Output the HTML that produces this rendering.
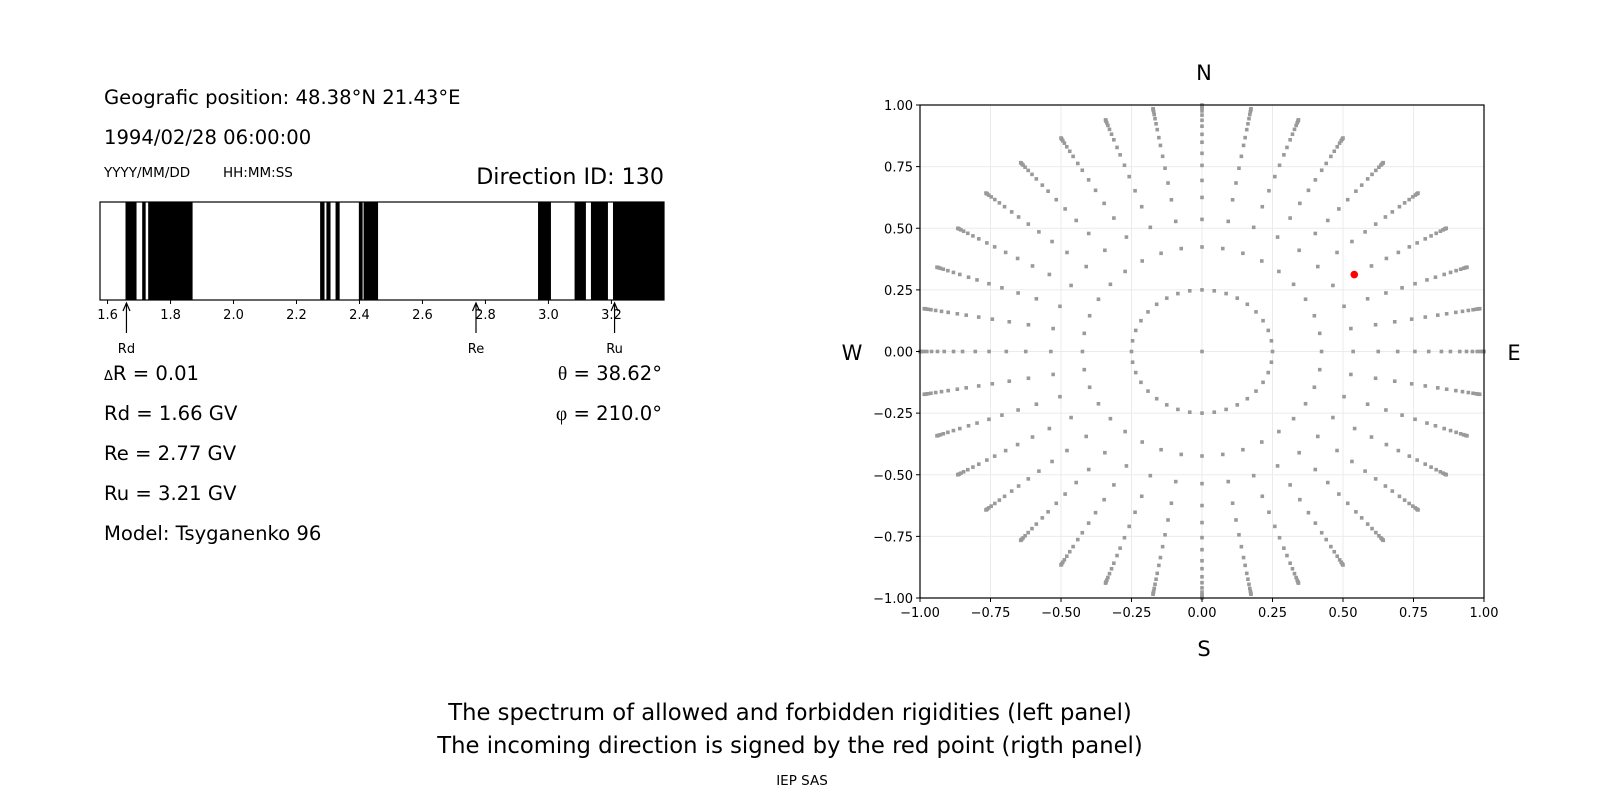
<!DOCTYPE html>
<html><head><meta charset="utf-8"><style>
html,body{margin:0;padding:0;background:#fff;}
svg{display:block;font-family:"DejaVu Sans","Liberation Sans",sans-serif;}
</style></head><body>
<svg id="chart" width="1600" height="800" viewBox="0 0 1600 800" xmlns="http://www.w3.org/2000/svg">
<g id="left">
<text x="104" y="104" font-size="19.6">Geografic position: 48.38°N 21.43°E</text>
<text x="104" y="144" font-size="19.6">1994/02/28 06:00:00</text>
<text x="104" y="177" font-size="13.5">YYYY/MM/DD</text>
<text x="223" y="177" font-size="13.5">HH:MM:SS</text>
<text x="664" y="184" font-size="22.2" text-anchor="end">Direction ID: 130</text>
<g id="spec"></g>
<text x="104" y="380" font-size="19.6"><tspan font-size="13">Δ</tspan>R = 0.01</text>
<text x="104" y="420" font-size="19.6">Rd = 1.66 GV</text>
<text x="104" y="460" font-size="19.6">Re = 2.77 GV</text>
<text x="104" y="500" font-size="19.6">Ru = 3.21 GV</text>
<text x="104" y="540" font-size="19.6">Model: Tsyganenko 96</text>
<text x="662" y="380" font-size="19.6" text-anchor="end"><tspan font-family="Liberation Serif,serif">θ</tspan> = 38.62°</text>
<text x="662" y="420" font-size="19.6" text-anchor="end"><tspan font-family="Liberation Serif,serif">φ</tspan> = 210.0°</text>
</g>
<g id="right"></g>
<text x="1204" y="80" font-size="21" text-anchor="middle">N</text>
<text x="1204" y="656" font-size="21" text-anchor="middle">S</text>
<text x="852" y="360" font-size="21" text-anchor="middle">W</text>
<text x="1514" y="360" font-size="21" text-anchor="middle">E</text>
<text x="790" y="720" font-size="22.7" text-anchor="middle">The spectrum of allowed and forbidden rigidities (left panel)</text>
<text x="790" y="753" font-size="22.7" text-anchor="middle">The incoming direction is signed by the red point (rigth panel)</text>
<text x="802" y="785" font-size="13.5" text-anchor="middle">IEP SAS</text>
</svg>
<script>
const NS="http://www.w3.org/2000/svg";
// Spectrum data
const forbiddenStart=[1.657,1.710,1.729,2.275,2.295,2.324,2.398,2.413,2.967,3.083,3.135,3.205];
const forbiddenEnd  =[1.692,1.721,1.870,2.289,2.308,2.337,2.410,2.459,3.008,3.119,3.189,3.367];
const specTicks=[1.6,1.8,2.0,2.2,2.4,2.6,2.8,3.0,3.2];
const markerNames=["Rd","Re","Ru"];
const markerValues=[1.66,2.77,3.21];
// Direction grid data
const azimuthsDeg=[0,10,20,30,40,50,60,70,80,90,100,110,120,130,140,150,160,170,180,190,200,210,220,230,240,250,260,270,280,290,300,310,320,330,340,350];
const radii=[0.25,0.424,0.536,0.625,0.694,0.755,0.804,0.849,0.881,0.914,0.938,0.959,0.976,0.987,0.994,0.998,1.0];
const redX=[0.54];
const redY=[0.312];
const axTicks=[-1,-0.75,-0.5,-0.25,0,0.25,0.5,0.75,1];

function mk(tag,attrs,parent){const e=document.createElementNS(NS,tag);for(const k in attrs)e.setAttribute(k,attrs[k]);parent.appendChild(e);return e;}

// Left spectrum
const spec=document.getElementById('spec');
const bx0=100,bx1=664,by0=202,by1=300,vmin=1.576,vmax=3.367;
const sx=v=>bx0+(v-vmin)/(vmax-vmin)*(bx1-bx0);
for(let i=0;i<forbiddenStart.length;i++){
  const r=mk('rect',{x:sx(forbiddenStart[i]),y:by0,width:Math.max(1,sx(forbiddenEnd[i])-sx(forbiddenStart[i])),height:by1-by0,fill:'#000'},spec);
  
  
}
const frame=mk('rect',{x:bx0,y:by0,width:bx1-bx0,height:by1-by0,fill:'none',stroke:'#000','stroke-width':1.2},spec);


specTicks.forEach(t=>{
  mk('line',{x1:sx(t),x2:sx(t),y1:by1,y2:by1+4,stroke:'#000'},spec);
  const tx=mk('text',{x:sx(t),y:by1+19,'font-size':13,'text-anchor':'middle'},spec);
  tx.textContent=t.toFixed(1);
  
  
});
markerNames.forEach((n,i)=>{
  const x=sx(markerValues[i]);
  const g=mk('g',{},spec);
  
  
  mk('line',{x1:x,x2:x,y1:333,y2:304,stroke:'#000','stroke-width':1.2},g);
  mk('path',{d:`M${x-3.5} ${311}L${x} ${303}L${x+3.5} ${311}`,fill:'none',stroke:'#000','stroke-width':1.2},g);
  const t=mk('text',{x:x,y:353,'font-size':13,'text-anchor':'middle'},g);t.textContent=n;
});

// Right panel
const rp=document.getElementById('right');
const ax0=920,ax1=1484,ay0=105,ay1=598;
const px=v=>ax0+(v+1)/2*(ax1-ax0);
const py=v=>ay1-(v+1)/2*(ay1-ay0);
axTicks.forEach(t=>{
  mk('line',{x1:px(t),x2:px(t),y1:ay0,y2:ay1,stroke:'#ebebeb','stroke-width':1},rp);
  mk('line',{x1:ax0,x2:ax1,y1:py(t),y2:py(t),stroke:'#ebebeb','stroke-width':1},rp);
});
const pts=mk('g',{fill:'#9a9a9a'},rp);


mk('rect',{x:px(0)-1.8,y:py(0)-1.8,width:3.6,height:3.6},pts);
azimuthsDeg.forEach(a=>{
  const ar=a*Math.PI/180;
  radii.forEach(r=>{
    const x=r*Math.sin(ar),y=r*Math.cos(ar);
    mk('rect',{x:px(x)-1.8,y:py(y)-1.8,width:3.6,height:3.6},pts);
  });
});
redX.forEach((x,i)=>{
  const c=mk('circle',{cx:px(x),cy:py(redY[i]),r:3.8,fill:'#ff0000'},rp);
  
  
});
const af=mk('rect',{x:ax0,y:ay0,width:ax1-ax0,height:ay1-ay0,fill:'none',stroke:'#000','stroke-width':1.2},rp);


axTicks.forEach(t=>{
  mk('line',{x1:px(t),x2:px(t),y1:ay1,y2:ay1+4,stroke:'#000'},rp);
  mk('line',{x1:ax0-4,x2:ax0,y1:py(t),y2:py(t),stroke:'#000'},rp);
  const lx=mk('text',{x:px(t),y:ay1+19,'font-size':13,'text-anchor':'middle'},rp);
  lx.textContent=(t<0?'−':'')+Math.abs(t).toFixed(2);
  
  
  const ly=mk('text',{x:ax0-7,y:py(t)+5,'font-size':13,'text-anchor':'end'},rp);
  ly.textContent=(t<0?'−':'')+Math.abs(t).toFixed(2);
  
  
});
</script>
</body></html>
